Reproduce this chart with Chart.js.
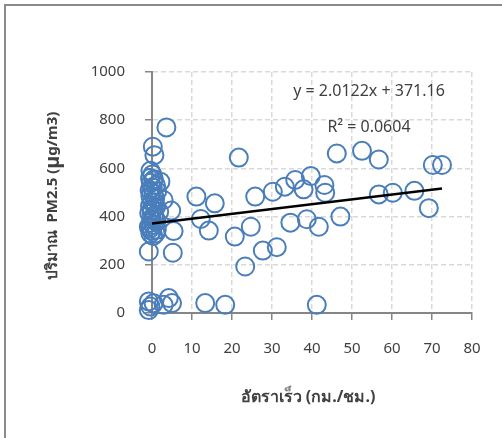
<!DOCTYPE html>
<html>
<head>
<meta charset="utf-8">
<script src="https://cdn.jsdelivr.net/npm/chart.js@4.4.0/dist/chart.umd.min.js"></script>
<style>
  html, body { margin: 0; padding: 0; background: #fff; }
  #wrap { width: 502px; height: 438px; }
</style>
</head>
<body>
<div id="wrap"><canvas id="chart" width="502" height="438"></canvas></div>
<script>
// speed (km/h) vs PM2.5 (ug/m3)
const speed = [
  3.6, 0.2, 0.6, -0.4, -0.5, 0.5, 2.1, -0.3, 1.0, 0.2,
  -0.6, 1.3, 0.4, -0.4, 2.9, 0.8, 0.0, -0.5, 1.0, 4.8,
  0.0, -0.7, 1.8, 0.5, 0.0, -0.3, 1.1, -0.8, 1.2, 0.4,
  0.0, -0.4, 0.3, 5.4, -0.8, 5.2, -0.8, -0.4, -0.8, 0.4,
  2.9, 4.2, 5.0, 13.3, 18.3, 41.2, 21.7, 11.1, 15.7, 12.2,
  14.2, 20.7, 24.7, 25.8, 30.2, 33.2, 35.8, 34.6, 27.7, 31.2,
  23.3, 46.2, 52.5, 56.7, 39.7, 37.9, 43.1, 43.3, 38.7, 41.7,
  47.1, 56.7, 70.2, 72.5, 60.2, 65.6, 69.2,
  0.3, -0.2, 0.6, -0.1, 0.7, -0.5, 0.9, 0.1
];
const pm25 = [
  770, 690, 655, 590, 560, 555, 545, 540, 530, 520,
  510, 505, 495, 485, 469, 475, 460, 445, 440, 425,
  428, 415, 420, 405, 386, 375, 380, 358, 345, 365,
  340, 330, 320, 340, 255, 250, 48, 27, 12, 40,
  34, 62, 41, 41, 34, 34, 645, 483, 455, 390,
  342, 317, 358, 483, 503, 524, 552, 375, 259, 273,
  193, 662, 673, 637, 568, 513, 531, 499, 389, 358,
  400, 492, 614, 614, 499, 507, 435,
  550, 500, 460, 415, 395, 350, 330, 575
];

const xTicks = [0, 10, 20, 30, 40, 50, 60, 70, 80];
const yTicks = [0, 200, 400, 600, 800, 1000];

// linear trend fitted to the series
const slope = 2.0122;
const intercept = 371.16;
const rSquared = 0.0604;
const trendX = [0, 72.5];

const xTitle = 'อัตราเร็ว (กม./ชม.)';
const yTitle = ['ปริมาณ  PM2.5 (', 'µ', 'g/m3)'];

const points = speed.map((x, i) => ({ x: x, y: pm25[i] }));
const trend = trendX.map(x => ({ x: x, y: slope * x + intercept }));

const FONT = '"Noto Sans", "DejaVu Sans", sans-serif';

const textLayer = {
  id: 'textLayer',
  afterDraw(chart) {
    const ctx = chart.ctx;
    ctx.save();

    // frame (top and left edges)
    ctx.strokeStyle = '#8a8a8a';
    ctx.lineWidth = 2;
    ctx.beginPath();
    ctx.moveTo(5, 438);
    ctx.lineTo(5, 5);
    ctx.lineTo(502, 5);
    ctx.stroke();

    // trendline equation
    ctx.fillStyle = '#404040';
    ctx.font = '16px ' + FONT;
    ctx.textAlign = 'center';
    ctx.textBaseline = 'middle';
    ctx.fillText('y = ' + slope.toFixed(4) + 'x + ' + intercept.toFixed(2), 369, 91);
    ctx.fillText('R² = ' + rSquared.toFixed(4), 369, 127);

    // x axis title
    ctx.font = 'bold 16px ' + FONT;
    ctx.fillText(xTitle, 308, 397);

    // y axis title, rotated, with a larger bold mu
    ctx.translate(53, 196);
    ctx.rotate(-Math.PI / 2);
    const fonts = ['bold 15px ' + FONT, 'bold 20px ' + FONT, 'bold 15px ' + FONT];
    let total = 0;
    const widths = yTitle.map((t, i) => {
      ctx.font = fonts[i];
      const w = ctx.measureText(t).width;
      total += w;
      return w;
    });
    let cx = -total / 2;
    ctx.textAlign = 'left';
    yTitle.forEach((t, i) => {
      ctx.font = fonts[i];
      ctx.fillText(t, cx, 0);
      cx += widths[i];
    });

    ctx.restore();
  }
};

const axisTicks = {
  color: '#404040',
  padding: 18,
  font: { family: FONT, size: 15 },
  callback: v => String(v)
};

new Chart(document.getElementById('chart'), {
  type: 'scatter',
  data: {
    datasets: [
      {
        type: 'line',
        data: trend,
        borderColor: '#000000',
        borderWidth: 2.5,
        pointRadius: 0,
        fill: false
      },
      {
        data: points,
        borderColor: '#4a7ebb',
        backgroundColor: 'rgba(0,0,0,0)',
        borderWidth: 2,
        pointRadius: 9,
        pointHoverRadius: 9,
        clip: false
      }
    ]
  },
  options: {
    responsive: false,
    animation: false,
    events: [],
    layout: { padding: { top: 72, right: 30, left: 0, bottom: 0 } },
    plugins: {
      legend: { display: false },
      tooltip: { enabled: false }
    },
    scales: {
      x: {
        type: 'linear',
        min: 0,
        max: 80,
        afterBuildTicks: s => { s.ticks = xTicks.map(v => ({ value: v })); },
        afterFit: s => { s.height = 125; },
        grid: {
          color: '#d9d9d9',
          lineWidth: 1.5,
          tickLength: 7,
          tickColor: '#868686',
          tickWidth: 1.5,
          tickBorderDash: []
        },
        border: { color: '#868686', width: 2, dash: [5, 3] },
        ticks: Object.assign({}, axisTicks, { padding: 20 })
      },
      y: {
        type: 'linear',
        min: 0,
        max: 1000,
        afterBuildTicks: s => { s.ticks = yTicks.map(v => ({ value: v })); },
        afterFit: s => { s.width = 152; },
        grid: {
          color: '#d9d9d9',
          lineWidth: 1.5,
          tickLength: 7,
          tickColor: '#868686',
          tickWidth: 1.5,
          tickBorderDash: []
        },
        border: { color: '#868686', width: 2, dash: [5, 3] },
        ticks: Object.assign({}, axisTicks, { padding: 20 })
      }
    }
  },
  plugins: [textLayer]
});
</script>
</body>
</html>
